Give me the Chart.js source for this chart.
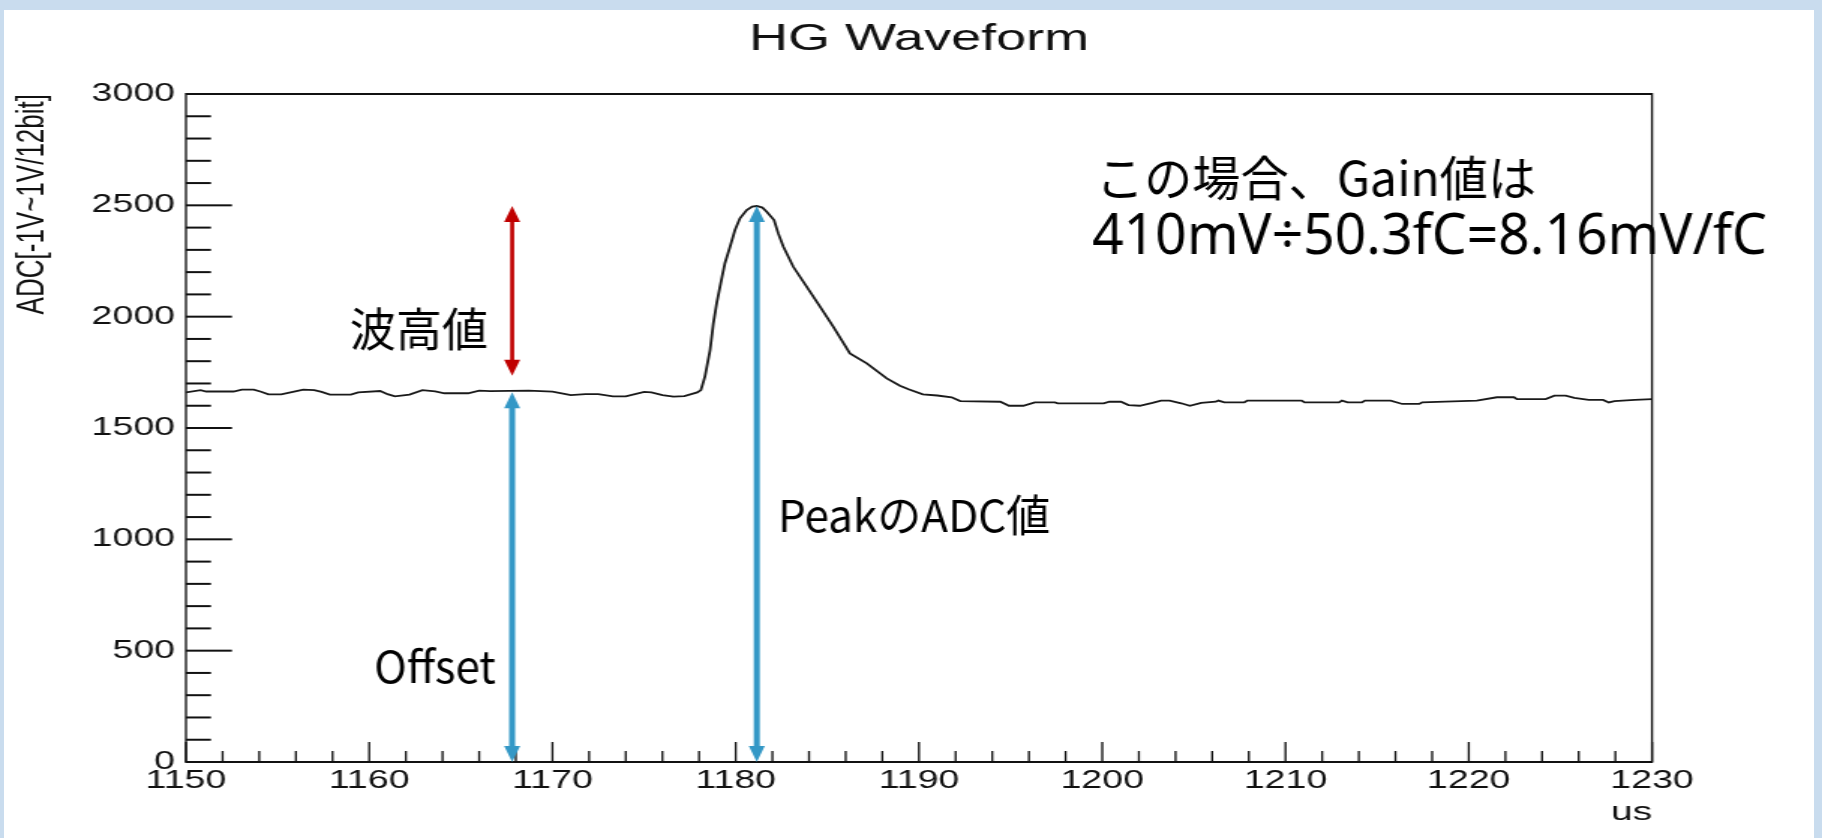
<!DOCTYPE html>
<html>
<head>
<meta charset="utf-8">
<script src="https://cdn.jsdelivr.net/npm/chart.js@4.4.1/dist/chart.umd.min.js"></script>
<style>
    html, body { margin: 0; padding: 0; }
    body { width: 1822px; height: 838px; background: #c9dcee; position: relative; overflow: hidden; }
    #panel { position: absolute; left: 4px; top: 10px; right: 8px; bottom: 0; background: #fff; }
    #wave { position: absolute; left: 0; top: 0; width: 1215px; height: 838px; transform-origin: 0 0; }
</style>
</head>
<body>
<div id="panel"></div>
<canvas id="wave" width="1215" height="838"></canvas>
<script>
// ROOT picture was pasted stretched sideways, so the chart canvas is scaled in x
const STRETCH = 1822 / 1215;

// waveform samples
const timeUs = [
    1150.0, 1150.8, 1151.1, 1152.6, 1153.05, 1153.7, 1154.1, 1154.5, 1155.2, 1155.9,
    1156.4, 1157.0, 1157.4, 1157.85, 1159.0, 1159.4, 1160.6, 1161.0, 1161.4, 1162.2,
    1162.9, 1163.6, 1164.1, 1165.4, 1166.0, 1166.6, 1168.7, 1170.0, 1170.5, 1171.0,
    1171.8, 1172.5, 1173.3, 1174.0, 1175.0, 1175.4, 1176.0, 1176.6, 1177.2, 1177.9,
    1178.1, 1178.32, 1178.6, 1178.78, 1178.96, 1179.18, 1179.41, 1179.69, 1179.96, 1180.23,
    1180.6, 1180.9, 1181.15, 1181.45, 1181.69, 1182.09, 1182.32, 1182.6, 1183.14, 1183.87,
    1184.6, 1185.32, 1186.23, 1187.15, 1188.24, 1188.96, 1189.43, 1190.21, 1191.0, 1191.78,
    1192.25, 1194.44, 1194.91, 1195.69, 1196.32, 1197.42, 1197.57, 1200.08, 1200.39, 1201.02,
    1201.43, 1202.05, 1202.74, 1203.21, 1203.68, 1204.31, 1204.78, 1205.4, 1206.19, 1206.34,
    1206.66, 1207.75, 1207.91, 1210.88, 1211.04, 1212.92, 1213.08, 1213.39, 1214.17, 1214.33,
    1215.74, 1216.37, 1217.3, 1217.46, 1218.71, 1220.44, 1221.53, 1222.47, 1222.63, 1224.2,
    1224.67, 1225.29, 1225.76, 1226.54, 1227.33, 1227.64, 1227.95, 1229.06, 1230.0
];
const adcValue = [
    1660, 1670, 1664, 1664, 1672, 1672, 1663, 1651, 1651, 1663,
    1672, 1670, 1662, 1650, 1650, 1660, 1666, 1652, 1642, 1650,
    1670, 1664, 1656, 1656, 1668, 1666, 1668, 1663, 1656, 1648,
    1652, 1652, 1642, 1642, 1662, 1660, 1648, 1641, 1643, 1660,
    1670, 1731, 1850, 1970, 2060, 2150, 2240, 2314, 2389, 2442,
    2479, 2494, 2497, 2490, 2471, 2434, 2374, 2314, 2224, 2135,
    2045, 1955, 1835, 1790, 1723, 1690, 1674, 1651, 1646, 1638,
    1621, 1618, 1600, 1600, 1615, 1615, 1611, 1611, 1618, 1618,
    1603, 1600, 1613, 1623, 1623, 1611, 1600, 1613, 1618, 1623,
    1615, 1615, 1623, 1623, 1615, 1615, 1623, 1615, 1615, 1623,
    1623, 1608, 1608, 1615, 1618, 1623, 1638, 1638, 1630, 1630,
    1645, 1645, 1635, 1626, 1626, 1615, 1621, 1626, 1630
];

const xTickValues = [1150, 1160, 1170, 1180, 1190, 1200, 1210, 1220, 1230];
const yTickValues = [0, 500, 1000, 1500, 2000, 2500, 3000];

// annotation levels
const offsetLevel = 1660;
const peakLevel = 2497;
const heightArrowLow = 1735;
const markerTime = 1167.8;
const peakTime = 1181.15;

const arrows = [
    { t: markerTime, from: heightArrowLow, to: peakLevel, color: "#c00000", shaft: 4 },
    { t: markerTime, from: 0, to: offsetLevel, color: "#3498c6", shaft: 6 },
    { t: peakTime, from: 0, to: peakLevel, color: "#3498c6", shaft: 6 }
];

const cjkFont = "'Noto Sans CJK JP', 'Noto Sans', sans-serif";
const latinFont = "'Noto Sans', 'Noto Sans CJK JP', sans-serif";
const rootFont = "'Liberation Sans', Arial, Helvetica, sans-serif";

const notes = [
    { text: "波高値", t: 1158.95, v: 1949, size: 46, family: cjkFont },
    { text: "Offset", t: 1160.26, v: 431, size: 44, family: cjkFont },
    { text: "PeakのADC値", t: 1182.3, v: 1109, size: 44, family: cjkFont },
    { text: "この場合、Gain値は", t: 1199.66, v: 2622, size: 48, width: 440, family: cjkFont },
    { text: "410mV÷50.3fC=8.16mV/fC", t: 1199.44, v: 2356, size: 57, width: 675, family: latinFont }
];

document.getElementById("wave").style.transform = `scaleX(${STRETCH})`;

// frame + inward ticks like ROOT
const framePlugin = {
    id: "rootFrame",
    beforeDatasetsDraw(chart) {
        const { ctx, chartArea: a, scales: { x, y } } = chart;
        const vw = 2 / STRETCH;
        ctx.save();
        ctx.fillStyle = "#111";
        ctx.fillRect(a.left, a.top - 1, a.width, 2);
        ctx.fillRect(a.left, a.bottom - 1, a.width, 2);
        ctx.fillRect(a.left - vw / 2, a.top - 1, vw, a.height + 2);
        ctx.fillRect(a.right - vw / 2, a.top - 1, vw, a.height + 2);

        for (let v = 0; v <= 3000; v += 100) {
            const py = y.getPixelForValue(v);
            const len = (v % 500 === 0 ? 46 : 25) / STRETCH;
            ctx.fillRect(a.left, py - 1, len, 2);
        }
        for (let t = 1150; t <= 1230; t += 2) {
            const px = x.getPixelForValue(t);
            const len = t % 10 === 0 ? 20 : 11;
            ctx.fillRect(px - vw / 2, a.bottom - len, vw, len);
        }
        ctx.restore();
    }
};

function drawArrow(ctx, x, yBottom, yTop, color, shaft) {
    const head = 16;
    const hw = head / 2 / STRETCH;
    const sw = shaft / STRETCH;
    ctx.fillStyle = color;
    ctx.fillRect(x - sw / 2, yTop + head - 1, sw, yBottom - yTop - 2 * head + 2);
    ctx.beginPath();
    ctx.moveTo(x, yTop);
    ctx.lineTo(x + hw, yTop + head);
    ctx.lineTo(x - hw, yTop + head);
    ctx.closePath();
    ctx.fill();
    ctx.beginPath();
    ctx.moveTo(x, yBottom);
    ctx.lineTo(x + hw, yBottom - head);
    ctx.lineTo(x - hw, yBottom - head);
    ctx.closePath();
    ctx.fill();
}

const notesPlugin = {
    id: "slideNotes",
    afterDatasetsDraw(chart) {
        const { ctx, scales: { x, y } } = chart;
        ctx.save();
        arrows.forEach(ar => {
            drawArrow(ctx, x.getPixelForValue(ar.t), y.getPixelForValue(ar.from),
                y.getPixelForValue(ar.to), ar.color, ar.shaft);
        });

        ctx.fillStyle = "#000";
        ctx.textBaseline = "middle";
        ctx.textAlign = "left";
        notes.forEach(n => {
            ctx.save();
            ctx.font = `${n.size}px ${n.family}`;
            const natural = ctx.measureText(n.text).width;
            const fit = n.width ? n.width / natural : 1;
            ctx.translate(x.getPixelForValue(n.t), y.getPixelForValue(n.v));
            ctx.scale(fit / STRETCH, 1);
            ctx.fillText(n.text, 0, 0);
            ctx.restore();
        });
        ctx.restore();
    }
};

new Chart(document.getElementById("wave"), {
    type: "scatter",
    data: {
        datasets: [{
            data: timeUs.map((t, i) => ({ x: t, y: adcValue[i] })),
            showLine: true,
            borderColor: "#1a1a1a",
            borderWidth: 1.8,
            pointRadius: 0,
            tension: 0
        }]
    },
    options: {
        responsive: false,
        animation: false,
        layout: { padding: { left: 0, right: 1215 - 1652 / STRETCH, top: 0, bottom: 0 } },
        plugins: {
            legend: { display: false },
            tooltip: { enabled: false },
            title: {
                display: true,
                text: "HG Waveform",
                fullSize: false,
                color: "#111",
                font: { family: rootFont, size: 36, weight: "normal" },
                padding: { top: 18, bottom: 32.8 }
            }
        },
        scales: {
            x: {
                type: "linear",
                min: 1150,
                max: 1230,
                grid: { display: false, drawTicks: false },
                border: { display: false },
                afterBuildTicks: s => { s.ticks = xTickValues.map(v => ({ value: v })); },
                afterFit: s => { s.height = 76; },
                ticks: {
                    autoSkip: false,
                    maxRotation: 0,
                    padding: 4,
                    color: "#111",
                    font: { family: rootFont, size: 25 },
                    callback: v => String(v)
                },
                title: {
                    display: true,
                    text: "us",
                    align: "end",
                    color: "#111",
                    padding: { top: 0, bottom: 10 },
                    font: { family: rootFont, size: 26 }
                }
            },
            y: {
                min: 0,
                max: 3000,
                grid: { display: false, drawTicks: false },
                border: { display: false },
                afterBuildTicks: s => { s.ticks = yTickValues.map(v => ({ value: v })); },
                afterFit: s => { s.width = 124; },
                ticks: {
                    padding: 7.3,
                    color: "#111",
                    font: { family: rootFont, size: 25 },
                    callback: v => String(v)
                },
                title: {
                    display: true,
                    text: "ADC[-1V~1V/12bit]",
                    align: "end",
                    color: "#111",
                    padding: { top: 5.8, bottom: 0 },
                    font: { family: rootFont, size: 26 }
                }
            }
        }
    },
    plugins: [framePlugin, notesPlugin]
});
</script>
</body>
</html>
